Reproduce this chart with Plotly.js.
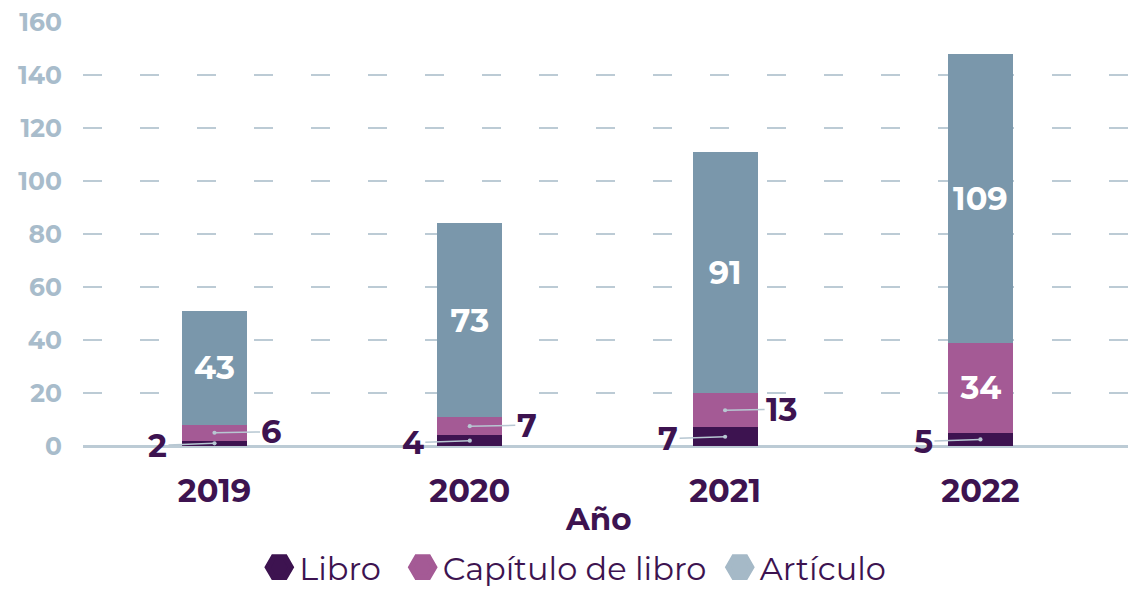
<!DOCTYPE html>
<html><head><meta charset="utf-8">
<script src="https://cdn.plot.ly/plotly-3.0.1.min.js"></script>
<style>html,body{margin:0;padding:0;background:#fff}#chart{width:1128px;height:591px}</style>
</head><body><div id="chart"></div>
<script>
const years = ['2019', '2020', '2021', '2022'];
const libro = [2, 4, 7, 5];
const capitulo = [6, 7, 13, 34];
const articulo = [43, 73, 91, 109];
const seriesNames = ['Libro', 'Capítulo de libro', 'Artículo'];
const yTicks = [0, 20, 40, 60, 80, 100, 120, 140, 160];
const xTitle = 'Año';

const dark = '#3d1350';
const barColors = ['#3d1350', '#a45a95', '#7a97ab'];
const legendColors = ['#3d1350', '#a45a95', '#a5b9c7'];
const legendPad = ['\u00a0\u00a0', '\u00a0', ''];
const FONT = 'Montserrat, "Open Sans", sans-serif';
const inThreshold = 15;

const series = [libro, capitulo, articulo];
const traces = series.map((vals, k) => ({
  type: 'bar', x: years, y: vals, name: seriesNames[k], showlegend: false,
  marker: {color: barColors[k], line: {width: 0}},
  text: vals.map(v => v >= inThreshold ? String(v) : ''),
  textposition: 'inside', insidetextanchor: 'middle', constraintext: 'none',
  textfont: {color: '#ffffff', size: 32, family: FONT, weight: 'bold'},
  hoverinfo: 'skip'
}));
seriesNames.forEach((n, k) => traces.push({
  type: 'scatter', mode: 'markers', x: [years[0]], y: [null], name: n + legendPad[k],
  marker: {symbol: 'hexagon2', size: 16, color: legendColors[k], line: {color: legendColors[k], width: 4}}
}));

const annotations = [];
years.forEach((yr, i) => {
  if (libro[i] < inThreshold) annotations.push({
    x: i, y: libro[i] / 2, xref: 'x', yref: 'y', text: String(libro[i]),
    ax: -57, ay: 2, showarrow: true, arrowhead: 6, arrowsize: 0.7, arrowwidth: 1.5,
    arrowcolor: '#b7c7d2', standoff: 0, startstandoff: 0,
    font: {size: 32, color: dark, family: FONT, weight: 'bold'}
  });
  if (capitulo[i] < inThreshold) annotations.push({
    x: i, y: libro[i] + capitulo[i] / 2, xref: 'x', yref: 'y', text: String(capitulo[i]),
    ax: 57, ay: -1, showarrow: true, arrowhead: 6, arrowsize: 0.7, arrowwidth: 1.5,
    arrowcolor: '#b7c7d2', standoff: 0, startstandoff: 0,
    font: {size: 32, color: dark, family: FONT, weight: 'bold'}
  });
});
annotations.push({
  text: xTitle, xref: 'paper', yref: 'paper', x: 0.493, y: -0.172, xanchor: 'center', yanchor: 'middle',
  showarrow: false, font: {size: 31, color: dark, family: FONT, weight: 'bold'}
});

const layout = {
  width: 1128, height: 591,
  margin: {l: 83, r: 0, t: 22, b: 145},
  paper_bgcolor: '#fff', plot_bgcolor: '#fff',
  barmode: 'stack', bargap: 0.745,
  showlegend: true,
  legend: {orientation: 'h', traceorder: 'normal', xref: 'container', yref: 'container', x: 0.51, xanchor: 'center',
    y: 0.04, yanchor: 'middle', font: {size: 32, color: dark, family: FONT}, itemsizing: 'trace',
    tracegroupgap: 0, itemwidth: 30},
  xaxis: {type: 'category', categoryorder: 'array', categoryarray: years, range: [-0.515, 3.578],
    showgrid: false, zeroline: false, showline: false, ticks: '',
    tickfont: {size: 32, color: dark, family: FONT, weight: 'bold'}, ticklabelstandoff: 23},
  yaxis: {range: [0, 160], tickvals: yTicks, ticktext: yTicks.map(String), showgrid: true,
    gridcolor: '#bccbd5', gridwidth: 2, griddash: '19px,38px',
    zeroline: true, zerolinecolor: '#bccbd5', zerolinewidth: 3, showline: false, ticks: '',
    tickfont: {size: 25, color: '#a8bccb', family: FONT, weight: 'bold'}, ticklabelstandoff: 20},
  annotations: annotations
};
Plotly.newPlot('chart', traces, layout, {displayModeBar: false, staticPlot: true}).then(gd => {
  gd.querySelectorAll('.legend .legendpoints path').forEach(p => {
    const t = p.getAttribute('transform') || '';
    p.setAttribute('transform', t + ' scale(1.45)');
  });
});
</script></body></html>
